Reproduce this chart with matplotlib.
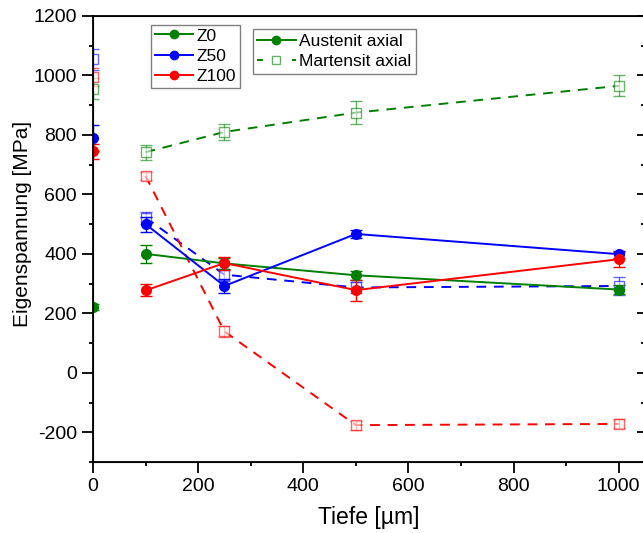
import matplotlib.pyplot as plt
from matplotlib.lines import Line2D
from matplotlib.ticker import MultipleLocator

plt.rcParams['font.family'] = ['Liberation Sans', 'DejaVu Sans']
plt.rcParams['axes.unicode_minus'] = False

tiefe = [0, 100, 250, 500, 1000]

# Austenit axial (solid, filled circles)
z0_aust = [220, 400, 368, 328, 280]
z50_aust = [790, 500, 292, 467, 399]
z100_aust = [745, 277, 369, 278, 382]
z0_aust_err = [10, 30, 18, 15, 15]
z50_aust_err = [45, 25, 25, 12, 12]
z100_aust_err = [25, 20, 22, 35, 25]

# Martensit axial (dashed, open squares)
z0_mart = [955, 742, 810, 875, 965]
z50_mart = [1055, 522, 330, 287, 292]
z100_mart = [995, 662, 139, -176, -172]
z0_mart_err = [35, 25, 28, 38, 35]
z50_mart_err = [35, 20, 20, 20, 30]
z100_mart_err = [30, 15, 20, 15, 15]

colors = ['#008000', '#0000ff', '#ff0000']
labels = ['Z0', 'Z50', 'Z100']

fig = plt.figure(figsize=(6.43, 5.33), dpi=100)
ax = fig.add_axes([0.1446, 0.1332, 0.8585, 0.8368])

aust = [(z0_aust, z0_aust_err), (z50_aust, z50_aust_err), (z100_aust, z100_aust_err)]
mart = [(z0_mart, z0_mart_err), (z50_mart, z50_mart_err), (z100_mart, z100_mart_err)]

# the surface point (x = 0) is not joined to the rest
for (y, e), c in zip(mart, colors):
    ax.plot(tiefe[1:], y[1:], color=c, lw=1.4, ls=(0, (5, 4)), zorder=2)
    ax.errorbar(tiefe, y, yerr=e, fmt='s', ms=7, mfc='white', mec=c, mew=1.0,
                ecolor=c, elinewidth=1.0, capsize=4, alpha=0.6, zorder=3)

for (y, e), c in zip(aust, colors):
    ax.plot(tiefe[1:], y[1:], color=c, lw=1.4, zorder=4)
    ax.errorbar(tiefe, y, yerr=e, fmt='o', color=c, ms=7,
                ecolor=c, elinewidth=1.0, capsize=4, zorder=4)

ax.set_xlim(0, 1050)
ax.set_ylim(-300, 1200)
ax.xaxis.set_major_locator(MultipleLocator(200))
ax.xaxis.set_minor_locator(MultipleLocator(100))
ax.yaxis.set_major_locator(MultipleLocator(200))
ax.yaxis.set_minor_locator(MultipleLocator(100))
ax.tick_params(which='major', length=8, width=1.3, labelsize=14, direction='out')
ax.tick_params(which='minor', length=3, width=1.3, direction='out')
ax.tick_params(top=False, right=False)
for s in ax.spines.values():
    s.set_linewidth(1.3)

ax2 = ax.twinx()
ax2.set_ylim(-300, 1200)
ax2.yaxis.set_major_locator(MultipleLocator(200))
ax2.yaxis.set_minor_locator(MultipleLocator(100))
ax2.tick_params(which='major', length=6, width=1.3, direction='in', labelright=False)
ax2.tick_params(which='minor', length=3, width=1.3, direction='in')

ax.set_xlabel('Tiefe [µm]', fontsize=16.5, labelpad=8)
ax.set_ylabel('Eigenspannung [MPa]', fontsize=15)
ax.yaxis.set_label_coords(-0.11, 0.534)

h1 = [Line2D([], [], color=c, lw=1.4, marker='o', ms=6) for c in colors]
leg1 = ax.legend(h1, labels, loc='upper left', bbox_to_anchor=(0.106, 0.98),
                 fontsize=12.5, fancybox=False, edgecolor='#808080', framealpha=1,
                 handlelength=2.2, handletextpad=0.2, borderpad=0.2, labelspacing=0.3,
                 borderaxespad=0)
ax.add_artist(leg1)

h2 = [Line2D([], [], color=colors[0], lw=1.4, marker='o', ms=6),
      Line2D([], [], color=colors[0], lw=1.4, ls=(0, (3, 6)), marker='s', ms=6,
             mfc='white', mec=(0, 0.5, 0, 0.6))]
ax.legend(h2, ['Austenit axial', 'Martensit axial'], loc='upper left',
          bbox_to_anchor=(0.29, 0.97), fontsize=12.5, fancybox=False,
          edgecolor='#808080', framealpha=1, handlelength=2.2, handletextpad=0.2,
          borderpad=0.25, labelspacing=0.3, borderaxespad=0)

fig.savefig('out.png', dpi=100)
